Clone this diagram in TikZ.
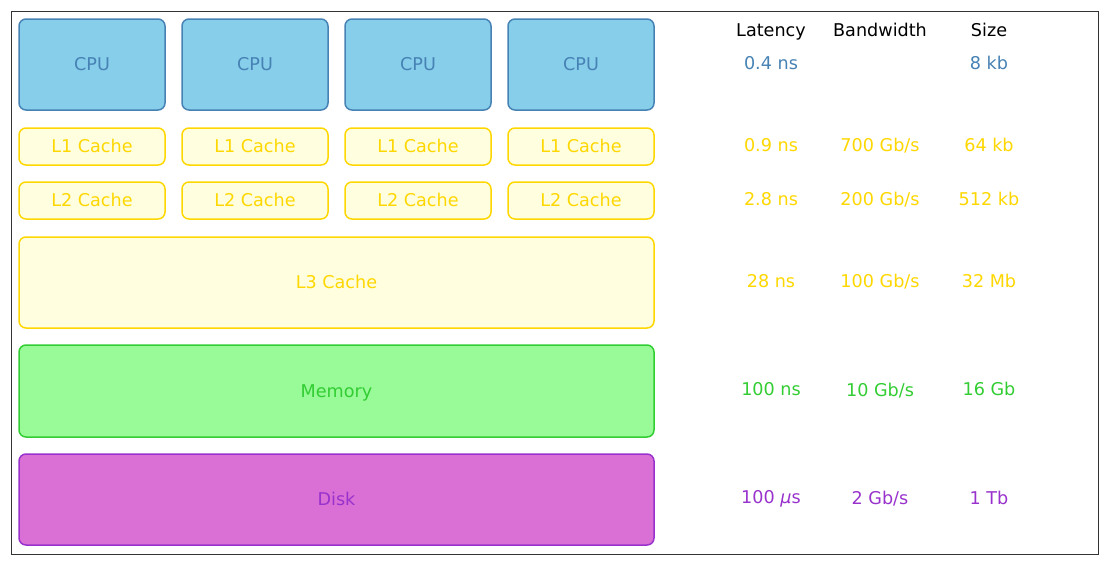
\documentclass[tikz,border=0pt]{standalone}
\usepackage{fontspec}
\setmainfont{DejaVu Sans}
\usepackage{xcolor}
\usepackage{tikz}
\usetikzlibrary{positioning}
\definecolor{cpufill}{RGB}{135,206,235}
\definecolor{cpuline}{RGB}{70,130,180}
\definecolor{cachefill}{RGB}{255,255,224}
\definecolor{cacheline}{RGB}{255,215,0}
\definecolor{memfill}{RGB}{152,251,152}
\definecolor{memline}{RGB}{50,205,50}
\definecolor{diskfill}{RGB}{218,112,214}
\definecolor{diskline}{RGB}{153,50,204}
\definecolor{framegray}{RGB}{51,51,51}
\tikzset{
    unit/.style={rectangle, rounded corners=7pt, line width=1.5pt, font=\fontsize{17.6}{21}\selectfont, inner sep=0pt, text height=12.8pt, text depth=0pt},
    cpubox/.style={unit, draw=cpuline, fill=cpufill, text=cpuline, minimum width=146pt, minimum height=91pt},
    cachebox/.style={unit, draw=cacheline, fill=cachefill, text=cacheline, minimum width=146pt, minimum height=37pt},
    widebox/.style={unit, minimum width=635pt, minimum height=91pt},
    figure/.style={font=\fontsize{17.6}{21}\selectfont, inner sep=0pt, text height=12.8pt, text depth=0pt},
    frame/.style={draw=framegray, line width=1pt}
}

\begin{document}
\begin{tikzpicture}[x=1pt, y=-1pt]
    \useasboundingbox (0,0) rectangle (1108,565);
    \draw [frame] (11,11) rectangle (1098,554);

    % Cores
    \node [cpubox] (cpu1) at (92,64.5) {CPU};
    \node [cpubox] (cpu2) at (255,64.5) {CPU};
    \node [cpubox] (cpu3) at (418,64.5) {CPU};
    \node [cpubox] (cpu4) at (581,64.5) {CPU};

    % Private caches
    \node [cachebox] (l1a) at (92,146.5) {L1 Cache};
    \node [cachebox] (l1b) at (255,146.5) {L1 Cache};
    \node [cachebox] (l1c) at (418,146.5) {L1 Cache};
    \node [cachebox] (l1d) at (581,146.5) {L1 Cache};
    \node [cachebox] (l2a) at (92,200.5) {L2 Cache};
    \node [cachebox] (l2b) at (255,200.5) {L2 Cache};
    \node [cachebox] (l2c) at (418,200.5) {L2 Cache};
    \node [cachebox] (l2d) at (581,200.5) {L2 Cache};

    % Shared levels
    \node [widebox, draw=cacheline, fill=cachefill, text=cacheline] (l3) at (336.5,282.5) {L3 Cache};
    \node [widebox, draw=memline, fill=memfill, text=memline, minimum height=92pt] (mem) at (336.5,391) {Memory};
    \node [widebox, draw=diskline, fill=diskfill, text=diskline] (disk) at (336.5,499.5) {Disk};

    % Table headers
    \node [figure] (hlat) at (771,30) {Latency};
    \node [figure] (hbw) at (880,30) {Bandwidth};
    \node [figure] (hsize) at (989,30) {Size};

    % Figures per level
    \node [figure, text=cpuline] (cpulat) at (771,63.5) {0.4 ns};
    \node [figure, text=cpuline] (cpusize) at (989,63.5) {8 kb};
    \node [figure, text=cacheline] (l1lat) at (771,145.5) {0.9 ns};
    \node [figure, text=cacheline] (l1bw) at (880,145.5) {700 Gb/s};
    \node [figure, text=cacheline] (l1size) at (989,145.5) {64 kb};
    \node [figure, text=cacheline] (l2lat) at (771,199.5) {2.8 ns};
    \node [figure, text=cacheline] (l2bw) at (880,199.5) {200 Gb/s};
    \node [figure, text=cacheline] (l2size) at (989,199.5) {512 kb};
    \node [figure, text=cacheline] (l3lat) at (771,281.5) {28 ns};
    \node [figure, text=cacheline] (l3bw) at (880,281.5) {100 Gb/s};
    \node [figure, text=cacheline] (l3size) at (989,281.5) {32 Mb};
    \node [figure, text=memline] (memlat) at (771,389) {100 ns};
    \node [figure, text=memline] (membw) at (880,390.3) {10 Gb/s};
    \node [figure, text=memline] (memsize) at (989,389) {16 Gb};
    \node [figure, text=diskline] (disklat) at (771,497.3) {100 {\itshape μ}s};
    \node [figure, text=diskline] (diskbw) at (880,498.5) {2 Gb/s};
    \node [figure, text=diskline] (disksize) at (989,498.5) {1 Tb};
\end{tikzpicture}
\end{document}
